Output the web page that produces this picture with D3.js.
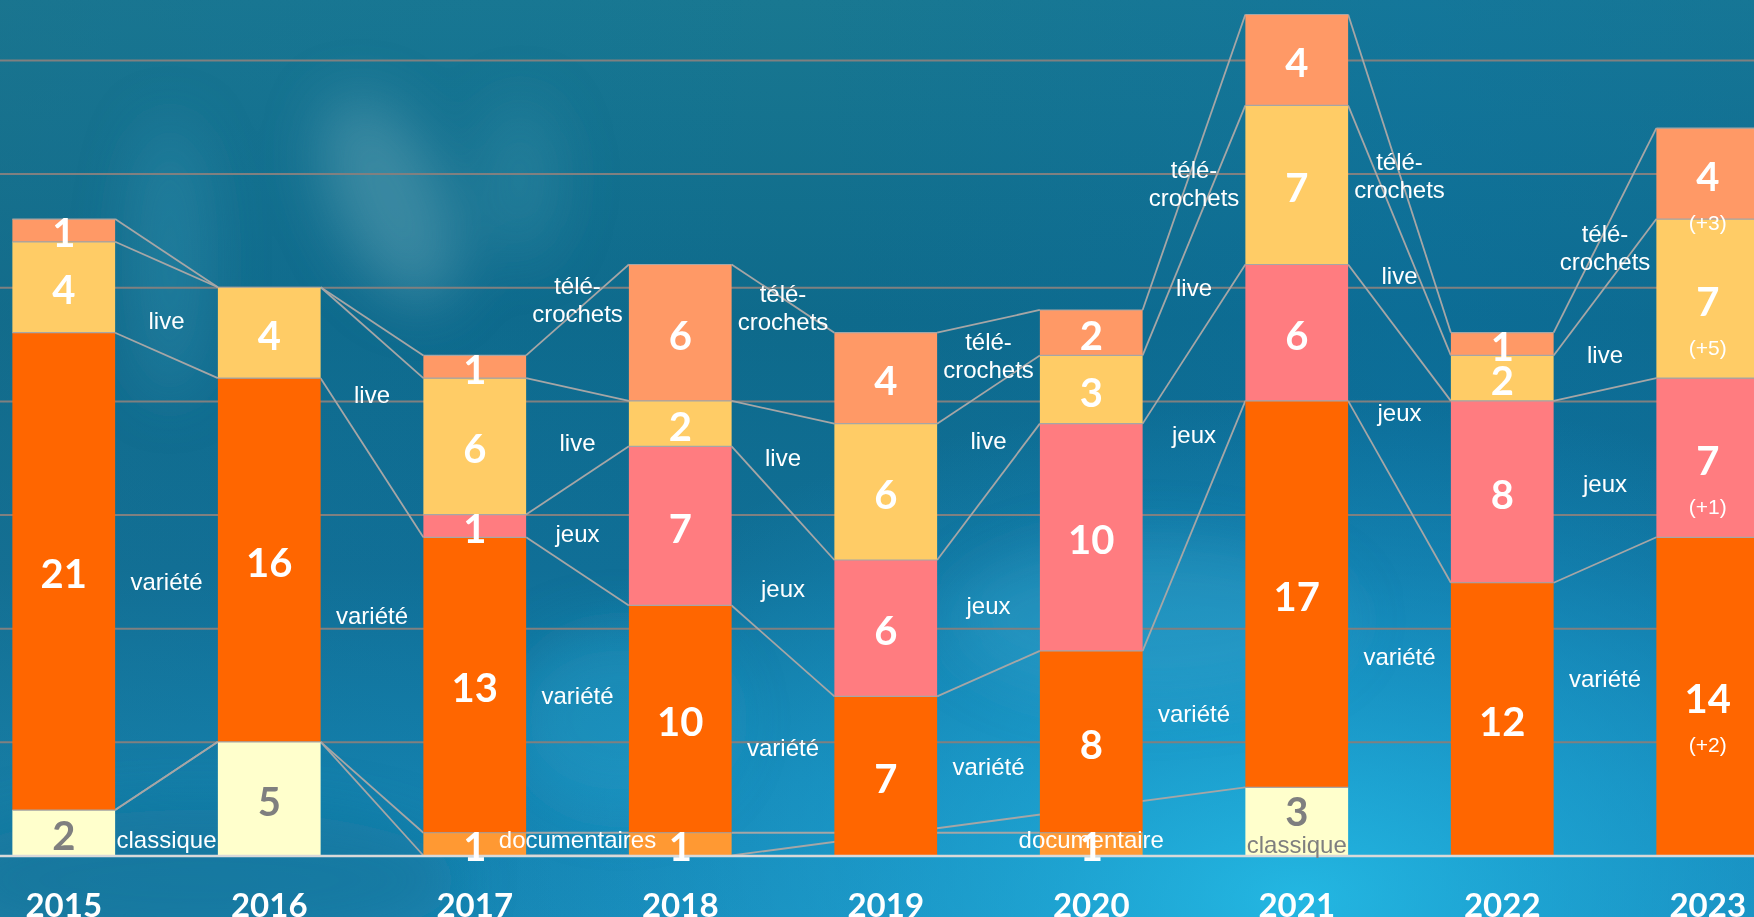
<!DOCTYPE html>
<html>
<head>
<meta charset="utf-8">
<script src="https://cdn.jsdelivr.net/npm/d3@7"></script>
<style>
  html, body { margin: 0; padding: 0; overflow: hidden; background: #0f6d8f; }
  svg { display: block; }
</style>
</head>
<body>
<div id="chart"></div>
<script>
// data (null = no value in the sheet, 0 = value zero)
var years = ["2015", "2016", "2017", "2018", "2019", "2020", "2021", "2022", "2023"];
var categories = ["classique", "documentaires", "variété", "jeux", "live", "télé-crochets"];
var classique     = [2, 5, 0, 0, null, null, 3, null, null];
var documentaires = [0, 0, 1, 1, null, 1, null, null, null];
var variete       = [21, 16, 13, 10, 7, 8, 17, 12, 14];
var jeux          = [null, null, 1, 7, 6, 10, 6, 8, 7];
var live          = [4, 4, 6, 2, 6, 3, 7, 2, 7];
var tele          = [1, 0, 1, 6, 4, 2, 4, 1, 4];
var gridTicks = [5, 10, 15, 20, 25, 30, 35];

// changes written in the 2023 bar
var notes2023 = { "variété": "(+2)", "jeux": "(+1)", "live": "(+5)", "télé-crochets": "(+3)" };

// category names written between two bars: [left year, category, text]
var gapLabels = [
  ["2015", "live", "live"], ["2015", "variété", "variété"], ["2015", "classique", "classique"],
  ["2016", "live", "live"], ["2016", "variété", "variété"],
  ["2017", "télé-crochets", "télé-|crochets"], ["2017", "live", "live"], ["2017", "jeux", "jeux"],
  ["2017", "variété", "variété"], ["2017", "documentaires", "documentaires"],
  ["2018", "télé-crochets", "télé-|crochets"], ["2018", "live", "live"], ["2018", "jeux", "jeux"], ["2018", "variété", "variété"],
  ["2019", "télé-crochets", "télé-|crochets"], ["2019", "live", "live"], ["2019", "jeux", "jeux"], ["2019", "variété", "variété"],
  ["2020", "télé-crochets", "télé-|crochets"], ["2020", "live", "live"], ["2020", "jeux", "jeux"], ["2020", "variété", "variété"],
  ["2021", "télé-crochets", "télé-|crochets"], ["2021", "live", "live"], ["2021", "jeux", "jeux"], ["2021", "variété", "variété"],
  ["2022", "télé-crochets", "télé-|crochets"], ["2022", "live", "live"], ["2022", "jeux", "jeux"], ["2022", "variété", "variété"]
];
// the hand placed names sit a bit off the middle of their band (in chart units)
var labelLift = {
  "2015|live": -0.45, "2015|variété": -0.7, "2016|live": -0.2, "2016|variété": 0.3,
  "2017|télé-crochets": 2.2, "2017|live": -0.35, "2017|jeux": -0.35, "2017|variété": 0.3,
  "2018|télé-crochets": 2.1, "2018|jeux": -0.5,
  "2019|jeux": -1.0, "2019|variété": -0.35,
  "2020|télé-crochets": 0.55, "2020|variété": -2.0,
  "2021|télé-crochets": 1.15, "2021|live": 0.25,
  "2022|télé-crochets": 0.5, "2022|live": -0.7, "2022|jeux": -0.4, "2022|variété": 1.3
};
// category names written inside a bar
var barLabels = [["2020", "documentaires", "documentaire"], ["2021", "classique", "classique"]];

var series = {
  "classique": classique, "documentaires": documentaires, "variété": variete,
  "jeux": jeux, "live": live, "télé-crochets": tele
};

var W = 1754, H = 917;

var color = d3.scaleOrdinal()
  .domain(categories)
  .range(["#FFFFCC", "#FF9933", "#FF6600", "#FF7C80", "#FFCC66", "#FF9966"]);

var x = d3.scaleBand().domain(years).range([-39, 1810.5]).paddingInner(0.5).paddingOuter(0.25);
var y = d3.scaleLinear().domain([0, 40]).range([855.5, -53.7]);
var bw = x.bandwidth();

var rows = years.map(function(yr, i) {
  var r = { year: yr };
  categories.forEach(function(c) { r[c] = series[c][i]; });
  return r;
});
var stacked = d3.stack().keys(categories).value(function(d, k) { return d[k] || 0; })(rows);

var svg = d3.select("#chart").append("svg").attr("width", W).attr("height", H);

// background
var defs = svg.append("defs");
var bg = defs.append("linearGradient").attr("id", "bg").attr("x1", 0).attr("y1", 0).attr("x2", 0).attr("y2", 1);
bg.append("stop").attr("offset", "0%").attr("stop-color", "#197891");
bg.append("stop").attr("offset", "35%").attr("stop-color", "#0e6a8b");
bg.append("stop").attr("offset", "62%").attr("stop-color", "#106f96");
bg.append("stop").attr("offset", "85%").attr("stop-color", "#1483b0");
bg.append("stop").attr("offset", "100%").attr("stop-color", "#1889b6");
var side = defs.append("linearGradient").attr("id", "side").attr("x1", 0).attr("y1", 0).attr("x2", 1).attr("y2", 0);
side.append("stop").attr("offset", "0%").attr("stop-color", "#1b6f8c").attr("stop-opacity", 0.35);
side.append("stop").attr("offset", "45%").attr("stop-color", "#0a70a8").attr("stop-opacity", 0);
side.append("stop").attr("offset", "80%").attr("stop-color", "#0874b0").attr("stop-opacity", 0.3);
side.append("stop").attr("offset", "100%").attr("stop-color", "#0a6fa8").attr("stop-opacity", 0.2);
var glow = defs.append("radialGradient").attr("id", "glow")
  .attr("cx", 0.74).attr("cy", 0.98).attr("r", 0.5).attr("gradientTransform", "translate(0.74,0.98) scale(1,1.1) translate(-0.74,-0.98)");
glow.append("stop").attr("offset", "0%").attr("stop-color", "#26c0ea").attr("stop-opacity", 0.85);
glow.append("stop").attr("offset", "55%").attr("stop-color", "#1fa6d8").attr("stop-opacity", 0.45);
glow.append("stop").attr("offset", "100%").attr("stop-color", "#1a9ad0").attr("stop-opacity", 0);
defs.append("filter").attr("id", "blur").attr("x", "-50%").attr("y", "-50%").attr("width", "200%").attr("height", "200%")
  .append("feGaussianBlur").attr("stdDeviation", 28);

svg.append("rect").attr("width", W).attr("height", H).attr("fill", "url(#bg)");
svg.append("rect").attr("width", W).attr("height", H).attr("fill", "url(#side)");
svg.append("rect").attr("width", W).attr("height", H).attr("fill", "url(#glow)");
var blobs = svg.append("g").attr("filter", "url(#blur)");
blobs.append("ellipse").attr("cx", 390).attr("cy", 200).attr("rx", 55).attr("ry", 110)
  .attr("transform", "rotate(-25 390 200)").attr("fill", "#6aa9b8").attr("opacity", 0.45);
blobs.append("ellipse").attr("cx", 170).attr("cy", 260).attr("rx", 40).attr("ry", 140)
  .attr("fill", "#3a97b8").attr("opacity", 0.35);
blobs.append("ellipse").attr("cx", 520).attr("cy", 180).attr("rx", 40).attr("ry", 80)
  .attr("fill", "#4a9ab0").attr("opacity", 0.3);
blobs.append("ellipse").attr("cx", 1150).attr("cy", 620).attr("rx", 200).attr("ry", 80)
  .attr("fill", "#3fb0d8").attr("opacity", 0.3);
blobs.append("ellipse").attr("cx", 620).attr("cy", 720).attr("rx", 110).attr("ry", 90)
  .attr("fill", "#2aa2cc").attr("opacity", 0.4);
blobs.append("ellipse").attr("cx", 200).attr("cy", 880).attr("rx", 260).attr("ry", 70)
  .attr("fill", "#1b6f95").attr("opacity", 0.5);

// gridlines
var grid = svg.append("g").call(d3.axisRight(y).tickValues(gridTicks).tickSize(W).tickFormat(""));
grid.select(".domain").remove();
grid.selectAll("line").attr("stroke", "#808080").attr("stroke-width", 2);

// series lines (skip empty cells, drawn under the bars)
var links = [];
categories.forEach(function(c, ci) {
  var idx = years.map(function(d, i) { return i; }).filter(function(i) { return series[c][i] !== null; });
  for (var k = 0; k < idx.length - 1; k++) {
    var a = idx[k], b = idx[k + 1];
    links.push({ x1: x(years[a]) + bw, y1: y(stacked[ci][a][1]), x2: x(years[b]), y2: y(stacked[ci][b][1]) });
  }
});
svg.append("g").selectAll("line").data(links).enter().append("line")
  .attr("x1", function(d) { return d.x1; }).attr("y1", function(d) { return d.y1; })
  .attr("x2", function(d) { return d.x2; }).attr("y2", function(d) { return d.y2; })
  .attr("stroke", "#a6a6a6").attr("stroke-width", 1.8);

// bars
var segs = [];
stacked.forEach(function(s, ci) {
  s.forEach(function(p, i) {
    var v = series[s.key][i];
    if (v) segs.push({ cat: s.key, year: years[i], i: i, y0: p[0], y1: p[1], v: v });
  });
});
var bars = svg.append("g");
bars.selectAll("rect").data(segs).enter().append("rect")
  .attr("x", function(d) { return x(d.year); })
  .attr("y", function(d) { return y(d.y1); })
  .attr("width", bw)
  .attr("height", function(d) { return y(d.y0) - y(d.y1); })
  .attr("fill", function(d) { return color(d.cat); });
bars.selectAll("line").data(segs).enter().append("line")
  .attr("x1", function(d) { return x(d.year); }).attr("x2", function(d) { return x(d.year) + bw; })
  .attr("y1", function(d) { return y(d.y1); }).attr("y2", function(d) { return y(d.y1); })
  .attr("stroke", "#a6a6a6").attr("stroke-width", 1.2);

// x axis
var xAxis = svg.append("g").attr("transform", "translate(0," + y(0) + ")")
  .call(d3.axisBottom(x).tickSize(0).tickPadding(0));
xAxis.select(".domain").attr("stroke", "#d9d9d9").attr("stroke-width", 2.5);
xAxis.selectAll("text")
  .attr("y", 61).attr("dy", null)
  .attr("fill", "#ffffff")
  .style("font-family", "Lato, 'Open Sans', sans-serif").style("font-weight", 700).style("font-size", "33px");

// value labels
var inBar = {};
barLabels.forEach(function(b) { inBar[b[0] + "|" + b[1]] = b[2]; });
var vals = svg.append("g").style("font-family", "Lato, 'Open Sans', sans-serif").style("font-weight", 700)
  .style("font-size", "40px").attr("text-anchor", "middle");
vals.selectAll("text").data(segs).enter().append("text")
  .attr("x", function(d) { return x(d.year) + bw / 2; })
  .attr("y", function(d) {
    var cy = y((d.y0 + d.y1) / 2);
    if (inBar[d.year + "|" + d.cat] && d.v > 1) cy -= 12;
    return cy + 17;
  })
  .attr("fill", function(d) { return d.cat === "classique" ? "#7f7f7f" : "#ffffff"; })
  .text(function(d) { return d.v; });

// notes in the 2023 bar
var last = segs.filter(function(d) { return d.year === "2023" && notes2023[d.cat]; });
svg.append("g").selectAll("text").data(last).enter().append("text")
  .attr("x", function(d) { return x(d.year) + bw / 2; })
  .attr("y", function(d) { return y((d.y0 + d.y1) / 2) + 56; })
  .attr("text-anchor", "middle").attr("fill", "#ffffff")
  .style("font-family", "'Liberation Sans', Arial, sans-serif").style("font-size", "21px")
  .text(function(d) { return notes2023[d.cat]; });

// category labels in the gaps
var labelFont = "'Liberation Sans', Arial, sans-serif";
var gl = svg.append("g").attr("text-anchor", "middle").attr("fill", "#ffffff")
  .style("font-family", labelFont).style("font-size", "24px");
gapLabels.forEach(function(g) {
  var i = years.indexOf(g[0]), ci = categories.indexOf(g[1]);
  var a = stacked[ci][i], b = stacked[ci][i + 1];
  var cx = (x(years[i]) + bw + x(years[i + 1])) / 2;
  var lines = g[2].split("|");
  var t = gl.append("text").attr("x", cx);
  if (g[1] === "classique" || g[1] === "documentaires") {
    t.attr("y", y(0) - 8);
  } else {
    var lift = labelLift[g[0] + "|" + g[1]] || 0;
    var cy = y((a[0] + a[1] + b[0] + b[1]) / 4 + lift);
    t.attr("y", cy + 8.5 - (lines.length - 1) * 14);
  }
  lines.forEach(function(s, k) {
    t.append("tspan").attr("x", cx).attr("dy", k ? 28 : 0).text(s);
  });
});

// category labels inside bars
svg.append("g").selectAll("text").data(barLabels).enter().append("text")
  .attr("x", function(d) { return x(d[0]) + bw / 2; })
  .attr("y", function(d) { return y(0) - (d[1] === "classique" ? 3 : 8); })
  .attr("text-anchor", "middle")
  .attr("fill", function(d) { return d[1] === "classique" ? "#7f7f7f" : "#ffffff"; })
  .style("font-family", labelFont).style("font-size", "24px")
  .text(function(d) { return d[2]; });
</script>
</body>
</html>
